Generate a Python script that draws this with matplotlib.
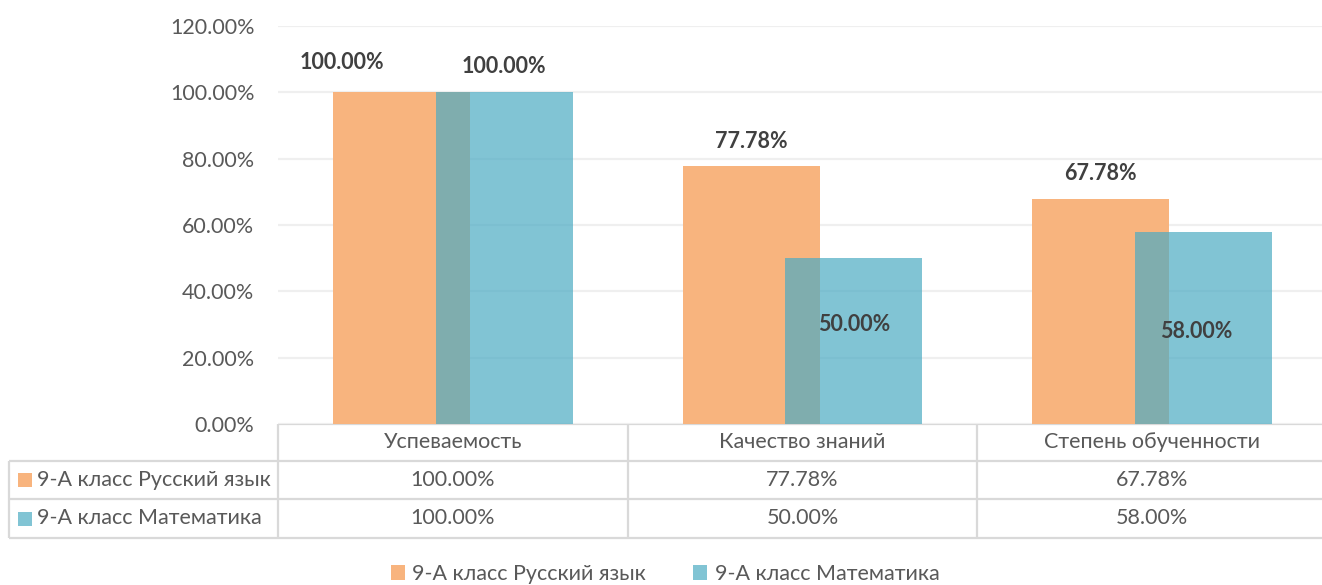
import matplotlib
matplotlib.use("Agg")
import matplotlib.pyplot as plt
from matplotlib.patches import Patch

plt.rcParams["font.family"] = ["Lato", "Noto Sans", "DejaVu Sans"]

categories = ["Успеваемость", "Качество знаний", "Степень обученности"]
series = ["9-А класс Русский язык", "9-А класс Математика"]
russian = [1.0, 0.7778, 0.6778]
maths = [1.0, 0.50, 0.58]
yticks = [0.0, 0.2, 0.4, 0.6, 0.8, 1.0, 1.2]

ORANGE = "#F8B47E"
BLUE = "#4CABC3"
GRID = "#EFEFEF"
LINE = "#D9D9D9"
TXT = "#595959"
LBL = "#404040"
FS = 15.5

W, H = 1322, 585
fig = plt.figure(figsize=(W / 100, H / 100), dpi=100)

# plot area in pixel units of the reference picture
left, right, top, bottom = 278, 1327, 26, 424
cat_w = (right - left) / 3
ax = fig.add_axes([left / W, 1 - bottom / H, (right - left) / W, (bottom - top) / H])

x = list(range(len(categories)))
bw, off = 0.392, 0.147
b1 = ax.bar([i - off for i in x], russian, bw, color=ORANGE, zorder=2)
b2 = ax.bar([i + off for i in x], maths, bw, color=BLUE, alpha=0.7, zorder=3)

ax.set_xlim(-0.5, len(categories) - 0.5)
ax.set_ylim(0, 1.2)
ax.set_yticks(yticks)
ax.set_yticklabels([f"{v * 100:.2f}%" for v in yticks], fontsize=FS, color=TXT)
ax.set_xticks([])
ax.tick_params(axis="y", length=0, pad=17)
ax.grid(axis="y", color=GRID, lw=1.6, zorder=0)
for s in ax.spines.values():
    s.set_visible(False)

# data labels were nudged by hand in the original, offsets in pixels
lab_off_r = [(-60, 30), (0, 25), (0, 26)]
lab_off_m = [(0, 26), (0, -66), (-7, -100)]
for bars, vals, offs in ((b1, russian, lab_off_r), (b2, maths, lab_off_m)):
    for rect, v, (dx, dy) in zip(bars, vals, offs):
        ax.annotate(f"{v * 100:.2f}%",
                    (rect.get_x() + rect.get_width() / 2, v),
                    xytext=(dx, dy), textcoords="offset pixels",
                    ha="center", va="center", fontsize=FS,
                    fontweight="bold", color=LBL, zorder=5)

# data table under the plot, drawn in pixel coordinates
tab = fig.add_axes([0, 0, 1, 1], zorder=-1)
tab.set_xlim(0, W)
tab.set_ylim(H, 0)
tab.axis("off")
rows_y = [bottom, 461, 499, 538]
tab_left = 9
kw = dict(color=LINE, lw=1.6, solid_capstyle="butt")
tab.plot([left, W], [rows_y[0]] * 2, **kw)
for y in rows_y[1:]:
    tab.plot([tab_left, W], [y, y], **kw)
tab.plot([tab_left] * 2, [rows_y[1], rows_y[3]], **kw)
for k in range(len(categories)):
    tab.plot([left + k * cat_w] * 2, [rows_y[0], rows_y[3]], **kw)

for k, c in enumerate(categories):
    cx = left + (k + 0.5) * cat_w
    tab.text(cx, (rows_y[0] + rows_y[1]) / 2, c, ha="center", va="center",
             fontsize=FS, color=TXT)
    for r, vals in enumerate((russian, maths)):
        tab.text(cx, (rows_y[r + 1] + rows_y[r + 2]) / 2, f"{vals[k] * 100:.2f}%",
                 ha="center", va="center", fontsize=FS, color=TXT)

for r, (name, col) in enumerate(zip(series, (ORANGE, BLUE))):
    cy = (rows_y[r + 1] + rows_y[r + 2]) / 2
    tab.add_patch(plt.Rectangle((18, cy - 7), 14, 14, color=col,
                                alpha=1 if r == 0 else 0.7, lw=0))
    tab.text(37, cy, name, ha="left", va="center", fontsize=FS, color=TXT)

handles = [Patch(color=ORANGE, lw=0), Patch(color=BLUE, alpha=0.7, lw=0)]
fig.legend(handles, series, loc="center", bbox_to_anchor=(0.503, 1 - 574 / H),
           ncol=2, frameon=False, fontsize=FS, labelcolor=TXT,
           handlelength=0.65, handleheight=0.65, handletextpad=0.35,
           columnspacing=2.2)

fig.savefig("out.png", dpi=100)
